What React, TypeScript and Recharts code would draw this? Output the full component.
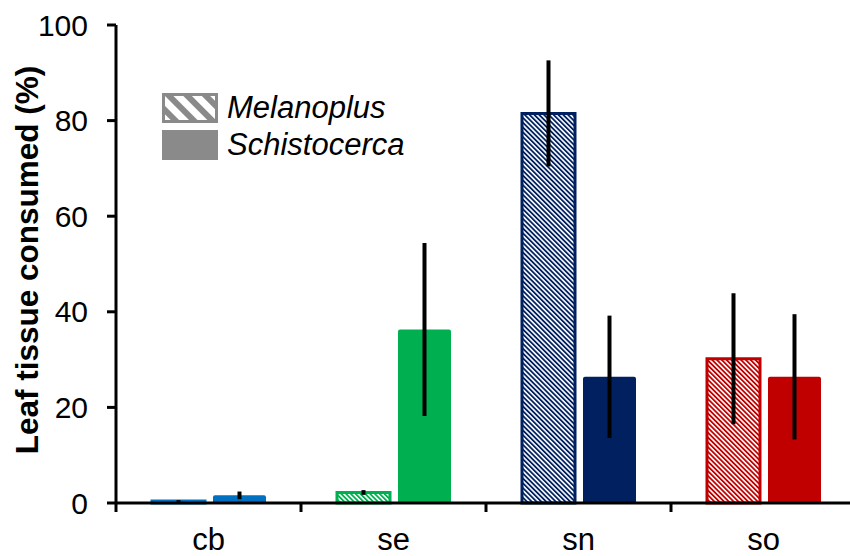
import React from "react";
import {
  BarChart,
  Bar,
  XAxis,
  YAxis,
  Cell,
  ErrorBar,
} from "recharts";

const categories = ["cb", "se", "sn", "so"];
const melanoplus = [0.4, 2.2, 81.5, 30.2];
const melanoplusErr = [0.2, 0.5, 11.1, 13.7];
const schistocerca = [1.6, 36.3, 26.4, 26.4];
const schistocercaErr = [0.8, 18.1, 12.8, 13.1];
const yTicks = [0, 20, 40, 60, 80, 100];
const seriesNames = ["Melanoplus", "Schistocerca"];

const colors = ["#0070C0", "#00B050", "#002060", "#C00000"];
const FONT = "'Liberation Sans', Arial, sans-serif";

const data = categories.map((c, i) => ({
  cat: c,
  mel: melanoplus[i],
  melErr: melanoplusErr[i],
  sch: schistocerca[i],
  schErr: schistocercaErr[i],
}));

function CatTick(props: any) {
  const { x, y, payload } = props;
  const off = payload && payload.offset != null ? payload.offset : 92.5;
  return (
    <g>
      <line x1={x - off} x2={x - off} y1={y} y2={y + 9} stroke="#000" strokeWidth={3} />
      <text x={x} y={y + 47} textAnchor="middle" fontSize={31} fontFamily={FONT} fill="#000">
        {payload.value}
      </text>
    </g>
  );
}

function YLabel(props: any) {
  const vb = props.viewBox || { x: 0, y: 25, width: 116, height: 478 };
  const x = vb.x + 38;
  const cy = vb.y + vb.height / 2 - 4;
  return (
    <text
      x={x}
      y={cy}
      transform={`rotate(-90, ${x}, ${cy})`}
      textAnchor="middle"
      fontSize={31.5}
      fontWeight="bold"
      fontFamily={FONT}
      fill="#000"
    >
      Leaf tissue consumed (%)
    </text>
  );
}

function LegendBox() {
  return (
    <div style={{ position: "absolute", left: 162, top: 89, fontFamily: FONT }}>
      {seriesNames.map((name, k) => (
        <div key={name} style={{ display: "flex", alignItems: "center", height: 37 }}>
          <svg width={56} height={30} style={{ display: "block" }}>
            <defs>
              <pattern id="leg-hatch" width={13} height={13} patternUnits="userSpaceOnUse" patternTransform="rotate(-45)">
                <rect width={13} height={13} fill="#fff" />
                <rect width={6} height={13} fill="#8a8a8a" />
              </pattern>
            </defs>
            <rect
              x={1.5}
              y={1.5}
              width={53}
              height={27}
              fill={k === 0 ? "url(#leg-hatch)" : "#8a8a8a"}
              stroke="#8a8a8a"
              strokeWidth={3}
            />
          </svg>
          <span style={{ fontSize: 31, fontStyle: "italic", marginLeft: 9, color: "#000", lineHeight: "30px" }}>
            {name}
          </span>
        </div>
      ))}
    </div>
  );
}

export default function App() {
  return (
    <div style={{ position: "absolute", left: 0, top: 0, width: 850, height: 556, overflow: "hidden", background: "#fff" }}>
      <BarChart
        width={856}
        height={556}
        data={data}
        margin={{ top: 25, right: 0, left: 0, bottom: 0 }}
        barSize={53}
        barGap={8}
      >
        <defs>
          {colors.map((c, i) => (
            <pattern
              key={c}
              id={`hatch-${i}`}
              width={3.4}
              height={3.4}
              patternUnits="userSpaceOnUse"
              patternTransform="rotate(-45)"
            >
              <rect width={3.4} height={3.4} fill="#fff" />
              <rect width={1.8} height={3.4} fill={c} />
            </pattern>
          ))}
        </defs>
        <XAxis
          dataKey="cat"
          tick={<CatTick />}
          tickLine={false}
          tickSize={0}
          tickMargin={0}
          height={53}
          axisLine={{ stroke: "#000", strokeWidth: 3 }}
          interval={0}
        />
        <YAxis
          domain={[0, 100]}
          ticks={yTicks}
          width={116}
          tickSize={9}
          tickMargin={19}
          axisLine={{ stroke: "#000", strokeWidth: 3 }}
          tickLine={{ stroke: "#000", strokeWidth: 3 }}
          tick={{ fontSize: 30, fill: "#000", fontFamily: FONT }}
          label={<YLabel />}
        />
        <Bar dataKey="mel" name={seriesNames[0]} isAnimationActive={false} strokeWidth={3}>
          {data.map((d, i) => (
            <Cell key={d.cat} fill={`url(#hatch-${i})`} stroke={colors[i]} />
          ))}
          <ErrorBar dataKey="melErr" width={0} stroke="#000" strokeWidth={4} />
        </Bar>
        <Bar dataKey="sch" name={seriesNames[1]} isAnimationActive={false} radius={[2, 2, 0, 0]}>
          {data.map((d, i) => (
            <Cell key={d.cat} fill={colors[i]} />
          ))}
          <ErrorBar dataKey="schErr" width={0} stroke="#000" strokeWidth={4} />
        </Bar>
      </BarChart>
      <LegendBox />
    </div>
  );
}
